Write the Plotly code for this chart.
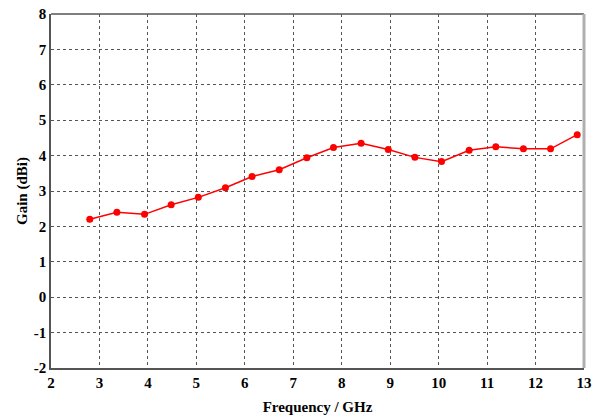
import plotly.graph_objects as go

freq_ghz = [2.80, 3.36, 3.93, 4.48, 5.04, 5.60, 6.15, 6.71, 7.28, 7.83, 8.40,
            8.96, 9.51, 10.06, 10.63, 11.18, 11.75, 12.31, 12.86]
gain_dbi = [2.20, 2.40, 2.34, 2.61, 2.82, 3.09, 3.41, 3.60, 3.94, 4.23, 4.35,
            4.17, 3.95, 3.83, 4.15, 4.25, 4.19, 4.19, 4.59]

x_ticks = list(range(2, 14))
y_ticks = list(range(-2, 9))

font_family = "Liberation Serif, Times New Roman, serif"

fig = go.Figure()
fig.add_trace(go.Scatter(
    x=freq_ghz, y=gain_dbi, mode="lines+markers",
    line=dict(color="#ff0000", width=1.5),
    marker=dict(color="#ff0000", size=7),
    showlegend=False, cliponaxis=False,
))

tick_font = dict(family=font_family, size=15, color="black", weight="bold")
title_font = dict(family=font_family, size=15, color="black", weight="bold")

axis_common = dict(
    showgrid=True, gridcolor="#555555", griddash="dot", gridwidth=1,
    zeroline=False, showline=True, linecolor="#555555", linewidth=1.5,
    ticks="", tickfont=tick_font, automargin=False,
)

fig.update_xaxes(
    range=[2, 13], tickvals=x_ticks, ticktext=[str(v) for v in x_ticks],
    title=dict(text="Frequency / GHz", font=title_font, standoff=12),
    **axis_common,
)
fig.update_yaxes(
    range=[-2, 8], tickvals=y_ticks, ticktext=[str(v) for v in y_ticks],
    title=dict(text="Gain (dBi)", font=title_font, standoff=3),
    **axis_common,
)

# top border (dark) and right border (light gray)
fig.add_shape(type="line", xref="paper", yref="paper", x0=0, x1=1, y0=1, y1=1,
              line=dict(color="#555555", width=1.5))
fig.add_shape(type="line", xref="paper", yref="paper", x0=1, x1=1, y0=0, y1=1,
              line=dict(color="#b0b0b0", width=3))

fig.update_layout(
    width=597, height=417,
    margin=dict(l=51, r=13, t=14, b=49),
    plot_bgcolor="white", paper_bgcolor="white",
    font=dict(family=font_family, color="black"),
)

fig.write_html("out.html", config={"displayModeBar": False},
               post_script="document.body.style.margin='0';")
